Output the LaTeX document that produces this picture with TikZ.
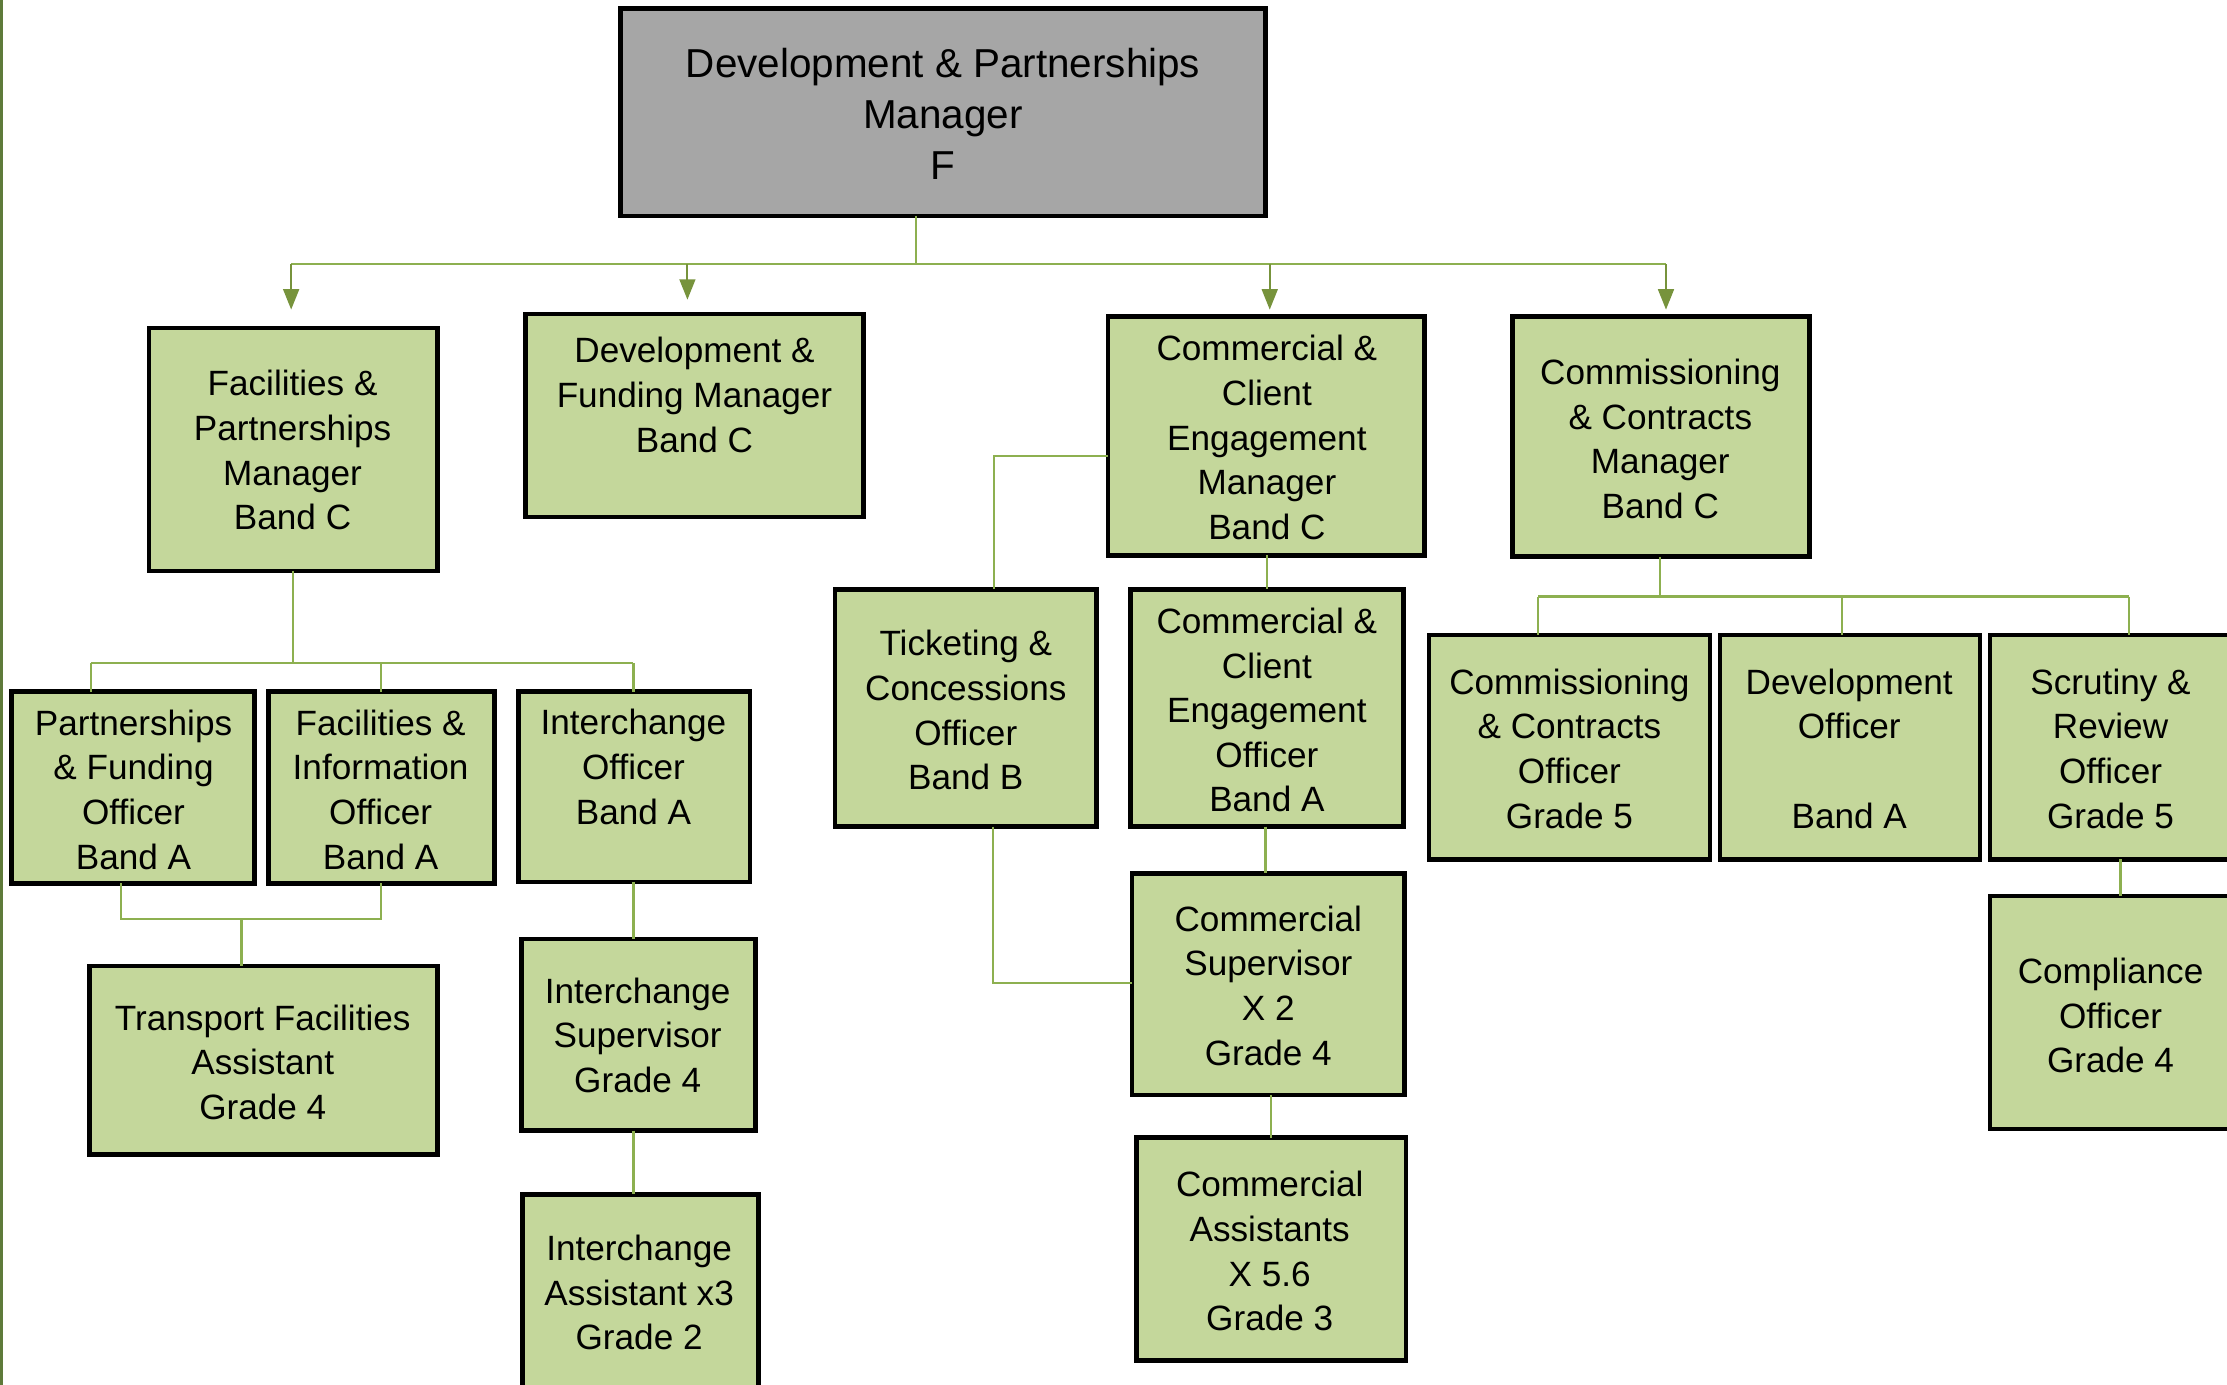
\documentclass[tikz,border=0pt]{standalone}
\usepackage{fontspec}
\setmainfont{Liberation Sans}
\usetikzlibrary{arrows.meta,calc}
\def\pxu{0.14203mm}
\definecolor{boxgreen}{HTML}{C4D79B}
\definecolor{boxgray}{HTML}{A6A6A6}
\definecolor{lineg}{HTML}{8DB050}
\definecolor{arrowg}{HTML}{77933C}
\definecolor{edgeg}{HTML}{5E7A3A}
\newcommand\mybox[6]{\node[orgbox,fill=#6,minimum width={(#4-#2)*\pxu},minimum height={(#5-#3)*\pxu}] (#1) at ({(#2+#4)/2},{(#3+#5)/2}) {};}
\newcommand\mytext[4]{\node[orgtxt] (#1-t) at (#2,#3) {#4};}
\tikzset{
  orgbox/.style={draw=black,line width=1.3pt,inner sep=0pt,outer sep=0pt,rectangle},
  orgtxt/.style={align=center,inner sep=0pt,font=\fontsize{10}{12.7}\selectfont},
  conn/.style={draw=lineg,line width=0.6pt},
  arr/.style={draw=arrowg,line width=0.6pt,-{Triangle[width=4.5pt,length=5.8pt]}},
}
\begin{document}
\begin{tikzpicture}[x=0.14203mm,y=-0.14203mm]
\useasboundingbox (0,0) rectangle (1568,975);
\clip (0,0) rectangle (1568,975);
\fill[white] (0,0) rectangle (1568,975);
\draw[edgeg,line width=0.8pt] (1,0) -- (1,975);

% connector coordinates
\coordinate (jt) at (645,186);
\coordinate (b1) at (205,186);
\coordinate (b2) at (484,186);
\coordinate (b3) at (894,186);
\coordinate (b4) at (1173,186);
\coordinate (f0) at (206,467);
\coordinate (fL) at (64,467);
\coordinate (fM) at (268,467);
\coordinate (fR) at (446,467);
\coordinate (g0) at (170,647);
\coordinate (g1) at (85,647);
\coordinate (g2) at (268,647);
\coordinate (ix) at (446,0);
\coordinate (c1) at (700,321);
\coordinate (c2) at (699,692);
\coordinate (cxa) at (892,0);
\coordinate (cxb) at (891,0);
\coordinate (cxc) at (895,0);
\coordinate (k0) at (1169,420);
\coordinate (kL) at (1083,420);
\coordinate (kM) at (1297,420);
\coordinate (kR) at (1499,420);
\coordinate (sx) at (1493,0);

% boxes
\mybox{top}{437}{6}{891}{152}{boxgray}
\mybox{fpm}{105}{231}{308}{402}{boxgreen}
\mybox{dfm}{370}{221}{608}{364}{boxgreen}
\mybox{cem}{780}{223}{1003}{391}{boxgreen}
\mybox{ccm}{1065}{223}{1274}{392}{boxgreen}
\mybox{pfo}{8}{487}{179}{622}{boxgreen}
\mybox{fio}{189}{487}{348}{622}{boxgreen}
\mybox{ico}{365}{487}{528}{621}{boxgreen}
\mybox{tfa}{63}{680}{308}{813}{boxgreen}
\mybox{isu}{367}{661}{532}{796}{boxgreen}
\mybox{ias}{368}{841}{534}{1000}{boxgreen}
\mybox{tco}{588}{415}{772}{582}{boxgreen}
\mybox{ceo}{796}{415}{988}{582}{boxgreen}
\mybox{csu}{797}{615}{989}{771}{boxgreen}
\mybox{cas}{800}{801}{990}{958}{boxgreen}
\mybox{cco}{1006}{447}{1204}{605}{boxgreen}
\mybox{dvo}{1211}{447}{1394}{605}{boxgreen}
\mybox{sro}{1401}{447}{1571}{605}{boxgreen}
\mybox{cpo}{1401}{631}{1571}{795}{boxgreen}

% texts
\node[orgtxt,font=\fontsize{11.5}{14.5}\selectfont] (top-t) at (664,80) {Development \& Partnerships\\Manager\\F};
\mytext{fpm}{206}{317}{Facilities \&\\Partnerships\\Manager\\Band C}
\mytext{dfm}{489}{278}{Development \&\\Funding Manager\\Band C}
\mytext{cem}{892}{308}{Commercial \&\\Client\\Engagement\\Manager\\Band C}
\mytext{ccm}{1169}{309}{Commissioning\\\& Contracts\\Manager\\Band C}
\mytext{pfo}{94}{556}{Partnerships\\\& Funding\\Officer\\Band A}
\mytext{fio}{268}{556}{Facilities \&\\Information\\Officer\\Band A}
\mytext{ico}{446}{540}{Interchange\\Officer\\Band A}
\mytext{tfa}{185}{748}{Transport Facilities\\Assistant\\Grade 4}
\mytext{isu}{449}{729}{Interchange\\Supervisor\\Grade 4}
\mytext{ias}{450}{910}{Interchange\\Assistant x3\\Grade 2}
\mytext{tco}{680}{500}{Ticketing \&\\Concessions\\Officer\\Band B}
\mytext{ceo}{892}{500}{Commercial \&\\Client\\Engagement\\Officer\\Band A}
\mytext{csu}{893}{694}{Commercial\\Supervisor\\X 2\\Grade 4}
\mytext{cas}{894}{881}{Commercial\\Assistants\\X 5.6\\Grade 3}
\mytext{cco}{1105}{527}{Commissioning\\\& Contracts\\Officer\\Grade 5}
\mytext{dvo}{1302}{527}{Development\\Officer\\\strut\\Band A}
\mytext{sro}{1486}{527}{Scrutiny \&\\Review\\Officer\\Grade 5}
\mytext{cpo}{1486}{715}{Compliance\\Officer\\Grade 4}

% connectors
\draw[conn] (jt |- top.south) -- (jt);
\draw[conn] (b1) -- (b4);
\draw[arr,shorten >=1.85mm] (b1) -- (b1 |- fpm.north);
\draw[arr,shorten >=1.42mm] (b2) -- (b2 |- dfm.north);
\draw[arr,shorten >=0.71mm] (b3) -- (b3 |- cem.north);
\draw[arr,shorten >=0.71mm] (b4) -- (b4 |- ccm.north);

\draw[conn] (f0 |- fpm.south) -- (f0);
\draw[conn] (fL) -- (fR);
\draw[conn] (fL) -- (fL |- pfo.north);
\draw[conn] (fM) -- (fM |- fio.north);
\draw[conn] (fR) -- (fR |- ico.north);
\draw[conn] (g1 |- pfo.south) -- (g1) -- (g2) -- (g2 |- fio.south);
\draw[conn] (g0) -- (g0 |- tfa.north);
\draw[conn] (ix |- ico.south) -- (ix |- isu.north);
\draw[conn] (ix |- isu.south) -- (ix |- ias.north);

\draw[conn] (c1 -| cem.west) -- (c1) -- (c1 |- tco.north);
\draw[conn] (c2 |- tco.south) -- (c2) -- (c2 -| csu.west);
\draw[conn] (cxa |- cem.south) -- (cxa |- ceo.north);
\draw[conn] (cxb |- ceo.south) -- (cxb |- csu.north);
\draw[conn] (cxc |- csu.south) -- (cxc |- cas.north);

\draw[conn] (k0 |- ccm.south) -- (k0);
\draw[conn] (kL) -- (kR);
\draw[conn] (kL) -- (kL |- cco.north);
\draw[conn] (kM) -- (kM |- dvo.north);
\draw[conn] (kR) -- (kR |- sro.north);
\draw[conn] (sx |- sro.south) -- (sx |- cpo.north);
\end{tikzpicture}
\end{document}
